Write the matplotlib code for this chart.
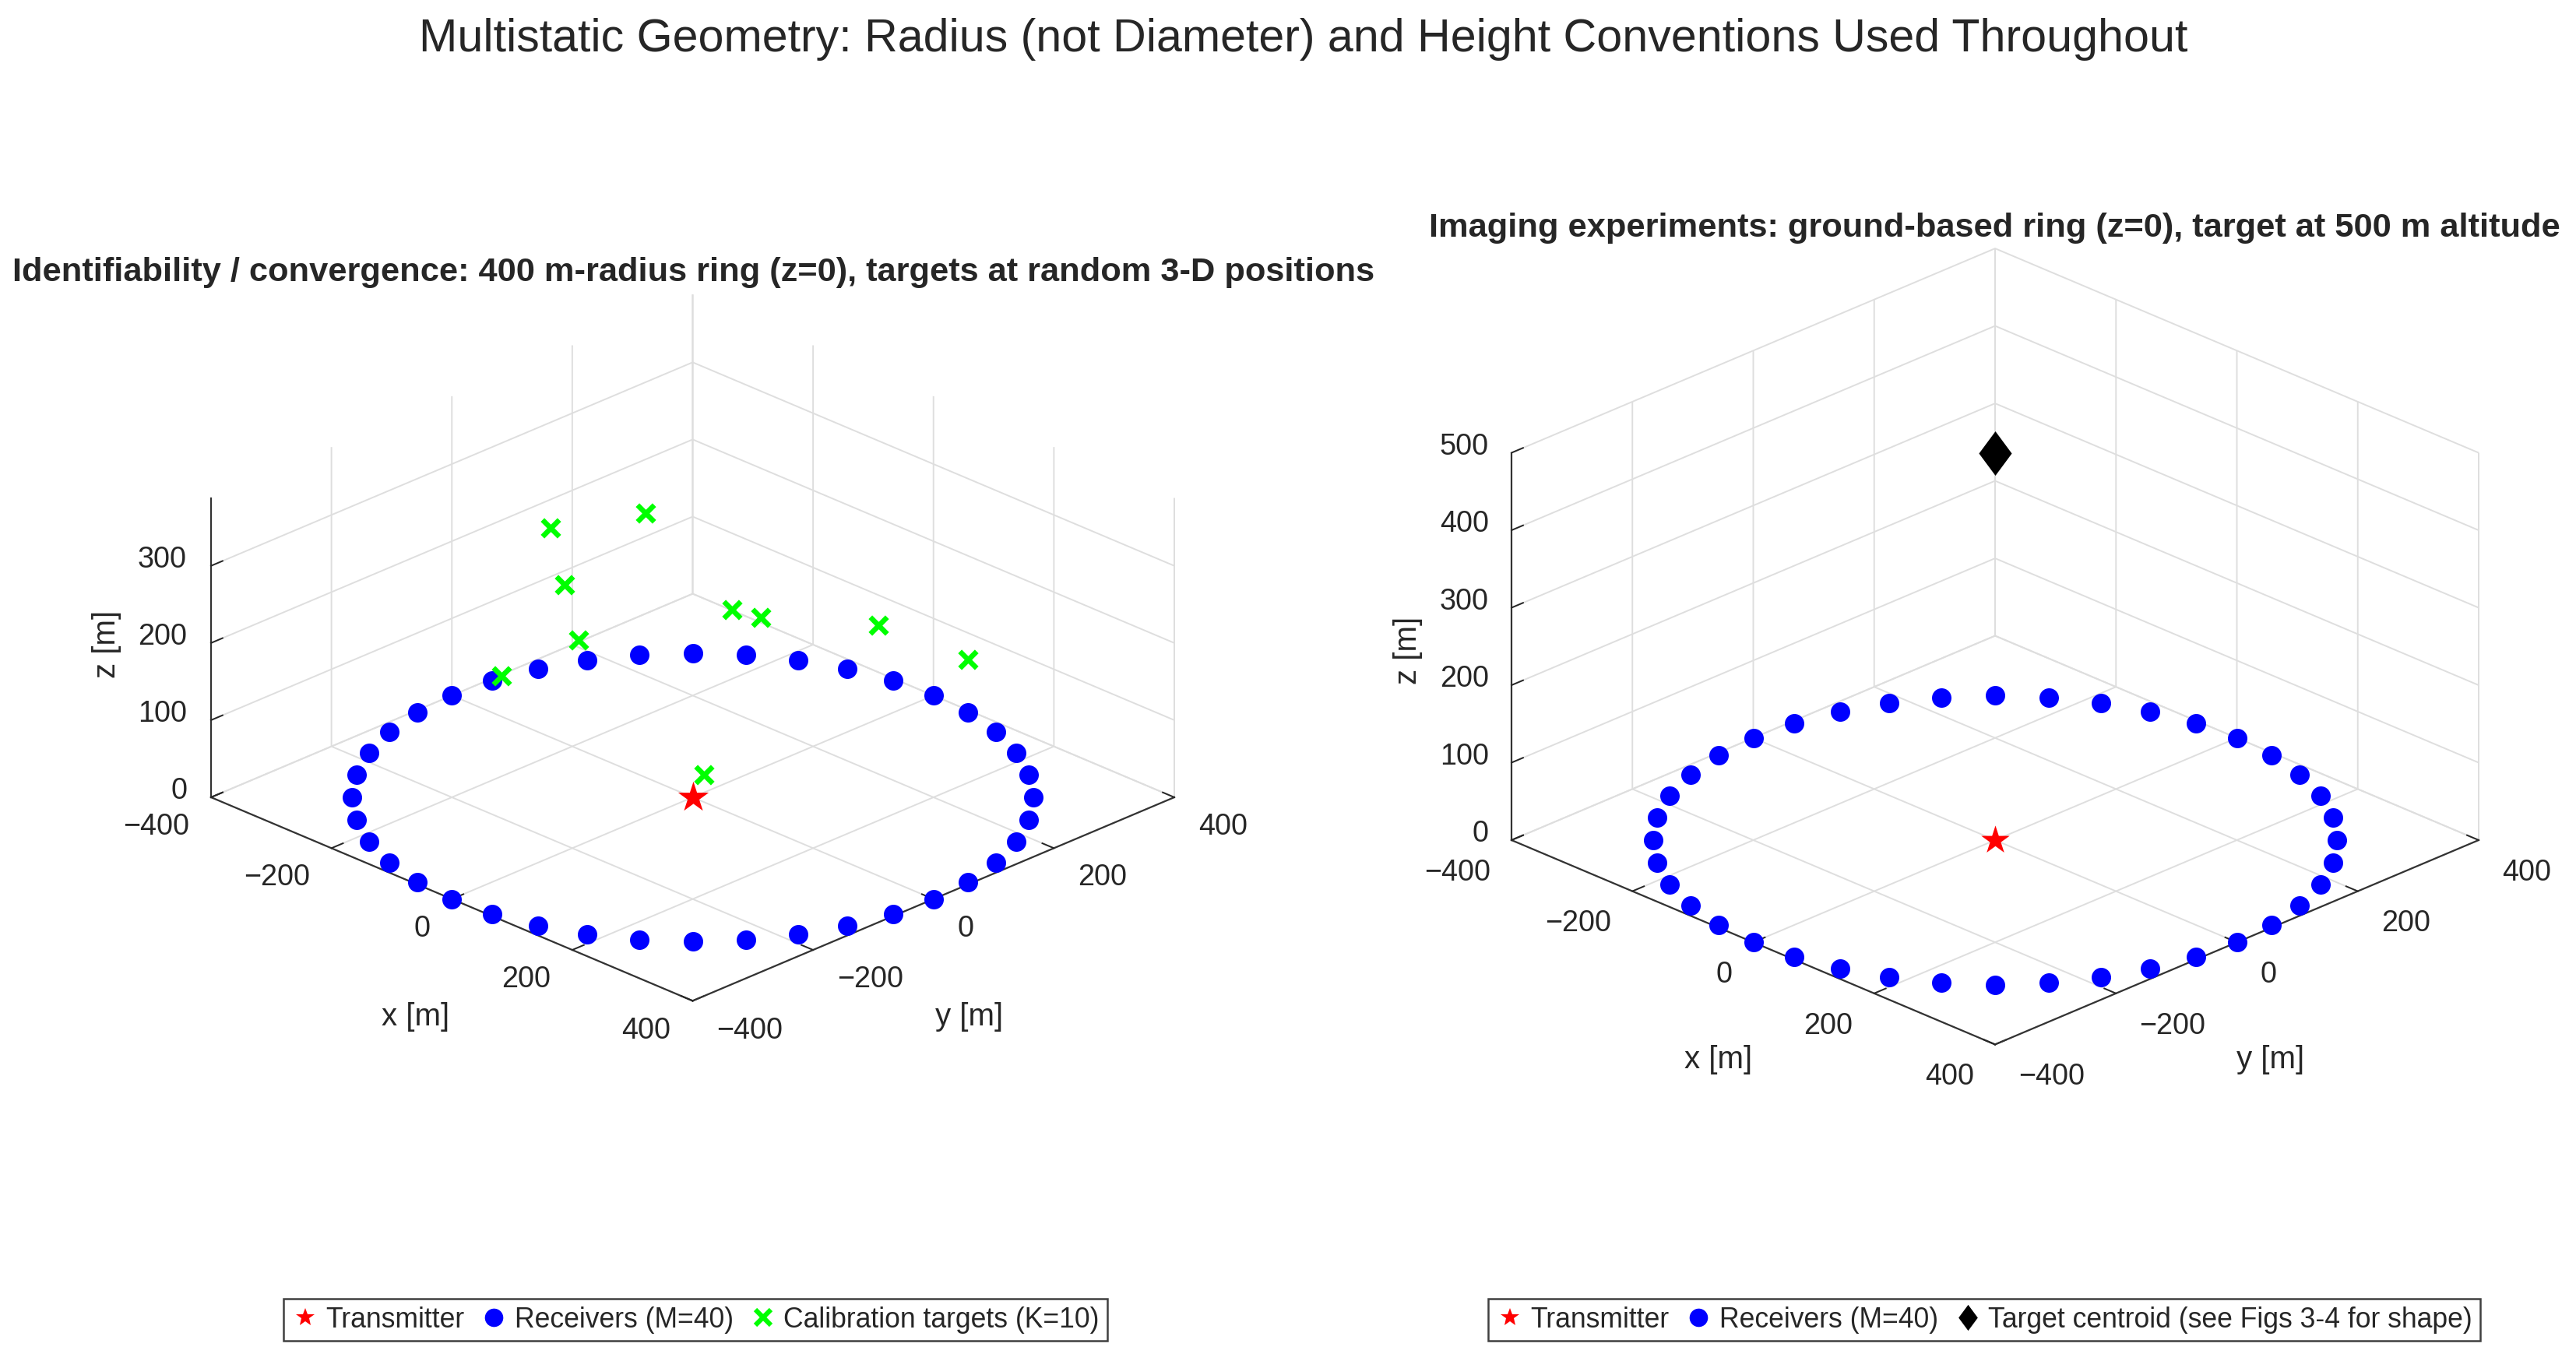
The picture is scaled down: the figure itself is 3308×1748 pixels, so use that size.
import matplotlib
matplotlib.use("Agg")
import matplotlib.pyplot as plt
from matplotlib.lines import Line2D
from matplotlib.text import Text
from mpl_toolkits.mplot3d import proj3d
import numpy as np

W, H, DPI = 3308, 1749, 200
plt.rcParams['font.family'] = ['Liberation Sans', 'DejaVu Sans']
TXT = '#262626'

suptitle = 'Multistatic Geometry: Radius (not Diameter) and Height Conventions Used Throughout'
title_left = 'Identifiability / convergence: 400 m-radius ring (z=0), targets at random 3-D positions'
title_right = 'Imaging experiments: ground-based ring (z=0), target at 500 m altitude'

rx_x = [400, 395.1, 380.4, 356.4, 323.6, 282.8, 235.1, 181.6, 123.6, 62.6,
        0, -62.6, -123.6, -181.6, -235.1, -282.8, -323.6, -356.4, -380.4, -395.1,
        -400, -395.1, -380.4, -356.4, -323.6, -282.8, -235.1, -181.6, -123.6, -62.6,
        0, 62.6, 123.6, 181.6, 235.1, 282.8, 323.6, 356.4, 380.4, 395.1]
rx_y = [0, 62.6, 123.6, 181.6, 235.1, 282.8, 323.6, 356.4, 380.4, 395.1,
        400, 395.1, 380.4, 356.4, 323.6, 282.8, 235.1, 181.6, 123.6, 62.6,
        0, -62.6, -123.6, -181.6, -235.1, -282.8, -323.6, -356.4, -380.4, -395.1,
        -400, -395.1, -380.4, -356.4, -323.6, -282.8, -235.1, -181.6, -123.6, -62.6]
rx_z = [0] * 40
tx_pos = [0, 0, 0]
cal_x = [-262, -15, -290, 57, -303, -149, 10, -44, 355, -5]
cal_y = [26, -63, 77, -247, -14, 214, 103, 352, 102, 24]
cal_z = [254, 384, 154, 304, 62, 124, 202, 92, 262, 20]
centroid = [0, 0, 500]
xy_ticks = [-400, -200, 0, 200, 400]
z_ticks_left = [0, 100, 200, 300]
z_ticks_right = [0, 100, 200, 300, 400, 500]
z_top_left = 388
z_top_right = 500

DIAMOND = [(0, 1), (0.74, 0), (0, -1), (-0.74, 0), (0, 1)]

fig = plt.figure(figsize=(W / DPI, H / DPI), dpi=DPI, facecolor='white')


def px(x, y):
    return x / W, 1 - y / H


def corners(ax, pts):
    M = ax.get_proj()
    out = []
    for p in pts:
        a, b, _ = proj3d.proj_transform(*p, M)
        out.append(ax.transData.transform((a, b)))
    return np.array(out)


def style(ax, ztop, zticks):
    ax.set_proj_type('ortho')
    ax.view_init(elev=25, azim=-45)
    ax.set_box_aspect((800, 800, ztop))
    ax.computed_zorder = False
    ax.patch.set_visible(False)
    ax.set_xticks(xy_ticks)
    ax.set_yticks(xy_ticks)
    ax.set_zticks(zticks)
    ax.set_xlim(-400, 400, view_margin=0)
    ax.set_ylim(-400, 400, view_margin=0)
    ax.set_zlim(0, ztop, view_margin=0)
    for axis in (ax.xaxis, ax.yaxis, ax.zaxis):
        axis.set_pane_color((1, 1, 1, 1))
        axis.pane.set_edgecolor((1, 1, 1, 0))
        axis.line.set_color('#333333')
        axis.line.set_linewidth(0.8)
        axis._axinfo['grid'].update(color='#dedede', linewidth=0.7)
        axis._axinfo['tick'].update(inward_factor=0, outward_factor=0.3)
        axis._axinfo['tick']['linewidth'] = {True: 0.7, False: 0.5}
        axis._axinfo['axisline']['color'] = '#333333'
    ax.zaxis.set_ticks_position('lower')
    ax.tick_params(axis='both', labelsize=13.6, colors=TXT)
    ax.tick_params(axis='z', labelsize=13.6, colors=TXT)
    ax.tick_params(axis='x', pad=2)
    ax.tick_params(axis='y', pad=2)
    ax.tick_params(axis='z', pad=2)
    for lab in ax.get_xticklabels():
        lab.set_ha('right')
    for lab in ax.get_yticklabels():
        lab.set_ha('left')
    for lab in ax.get_zticklabels():
        lab.set_ha('right')
        lab.set_va('bottom')


def nudge(ax, axis, dx, dy):
    """Shift an axis' tick labels by a constant number of pixels (dy downwards)."""
    inv = ax.transData.inverted()
    p0 = inv.transform((0, 0))
    p1 = inv.transform((dx, -dy))
    off = p1 - p0
    for tick in axis.get_major_ticks():
        def patched(xy, lab=tick.label1, off=off):
            Text.set_position(lab, (xy[0] + off[0], xy[1] + off[1]))
        tick.label1.set_position = patched


def pin_label(ax, label, x, y):
    xd, yd = ax.transData.inverted().transform((x, H - y))
    Text.set_position(label, (xd, yd))
    label.set_position = lambda xy: None
    label.set_color(TXT)
    label.set_fontsize(14.5)


def fit(ax, left, right, target_cy):
    size = 1500.0
    cx = 0.5 * (left + right)
    cy = target_cy
    for _ in range(3):
        ax.set_position([(cx - size / 2) / W, 1 - (cy + size / 2) / H, size / W, size / H])
        ax.apply_aspect()
        c = corners(ax, [(-400, -400, 0), (400, 400, 0)])
        size *= (right - left) / (c[1, 0] - c[0, 0])
        cx += 0.5 * (left + right) - 0.5 * (c[0, 0] + c[1, 0])
        cy += target_cy - (H - 0.5 * (c[0, 1] + c[1, 1]))
    ax.set_position([(cx - size / 2) / W, 1 - (cy + size / 2) / H, size / W, size / H])
    ax.apply_aspect()


ax1 = fig.add_subplot(121, projection='3d')
style(ax1, z_top_left, z_ticks_left)
ax1.scatter(*[[v] for v in tx_pos], c='red', marker='*', s=220, linewidths=0, depthshade=False, label='Transmitter')
ax1.scatter(rx_x, rx_y, rx_z, c='blue', marker='o', s=81, linewidths=0, depthshade=False, label='Receivers (M=40)')
ax1.scatter(cal_x, cal_y, cal_z, c='#00ff00', marker='x', s=60, linewidths=2.4, depthshade=False, label='Calibration targets (K=10)')
ax1.set_xlabel('x [m]', rotation=0)
ax1.set_ylabel('y [m]', rotation=0)
ax1.set_zlabel('z [m]', rotation=90)
for a in (ax1.xaxis, ax1.yaxis, ax1.zaxis):
    a.set_rotate_label(False)
ax1.set_title(title_left, fontsize=15.6, fontweight='bold', color=TXT, y=1.0)
ax1.title.set_transform(fig.transFigure)
ax1.title.set_position(px(891, 350))
ax1.title.set_va('center')

ax2 = fig.add_subplot(122, projection='3d')
style(ax2, z_top_right, z_ticks_right)
ax2.scatter(*[[v] for v in tx_pos], c='red', marker='*', s=190, linewidths=0, depthshade=False, label='Transmitter')
ax2.scatter(rx_x, rx_y, rx_z, c='blue', marker='o', s=81, linewidths=0, depthshade=False, label='Receivers (M=40)')
ax2.scatter(*[[v] for v in centroid], c='black', marker=DIAMOND, s=420, linewidths=0, depthshade=False,
            label='Target centroid (see Figs 3-4 for shape)')
ax2.set_xlabel('x [m]', rotation=0)
ax2.set_ylabel('y [m]', rotation=0)
ax2.set_zlabel('z [m]', rotation=90)
for a in (ax2.xaxis, ax2.yaxis, ax2.zaxis):
    a.set_rotate_label(False)
ax2.set_title(title_right, fontsize=15.6, fontweight='bold', color=TXT, y=1.0)
ax2.title.set_transform(fig.transFigure)
ax2.title.set_position(px(2561, 293))
ax2.title.set_va('center')

fit(ax1, 271, 1508, 1025)
fit(ax2, 1941, 3183, 1080)
for ax in (ax1, ax2):
    nudge(ax, ax.xaxis, -2, -8)
    nudge(ax, ax.yaxis, 5, -8)
    nudge(ax, ax.zaxis, 21, 9)
pin_label(ax1, ax1.xaxis.label, 534, 1306)
pin_label(ax1, ax1.yaxis.label, 1245, 1306)
pin_label(ax1, ax1.zaxis.label, 137, 827)
pin_label(ax2, ax2.xaxis.label, 2207, 1361)
pin_label(ax2, ax2.yaxis.label, 2916, 1361)
pin_label(ax2, ax2.zaxis.label, 1808, 835)

fig.text(*px(1674, 50), suptitle, ha='center', va='center', fontsize=21.3, color=TXT)


def legend(handles, x, y):
    fig.legend(handles=handles, loc='center', bbox_to_anchor=px(x, y), ncol=3, frameon=True, fancybox=False,
               edgecolor='#404040', framealpha=1, fontsize=12.8, labelcolor=TXT, handletextpad=0.25,
               columnspacing=0.56, borderpad=0.27, handlelength=1.0, borderaxespad=0).get_frame().set_linewidth(0.9)


def h(marker, color, label, ms, mew=0):
    return Line2D([], [], ls='none', marker=marker, color=color, ms=ms, mew=mew, label=label)


legend([h('*', 'red', 'Transmitter', 9), h('o', 'blue', 'Receivers (M=40)', 8.5),
        h('x', '#00ff00', 'Calibration targets (K=10)', 7, 2.2)], 893, 1696)
legend([h('*', 'red', 'Transmitter', 9), h('o', 'blue', 'Receivers (M=40)', 8.5),
        h(DIAMOND, 'black', 'Target centroid (see Figs 3-4 for shape)', 12)], 2548, 1696)

fig.savefig('out.png', dpi=DPI)
